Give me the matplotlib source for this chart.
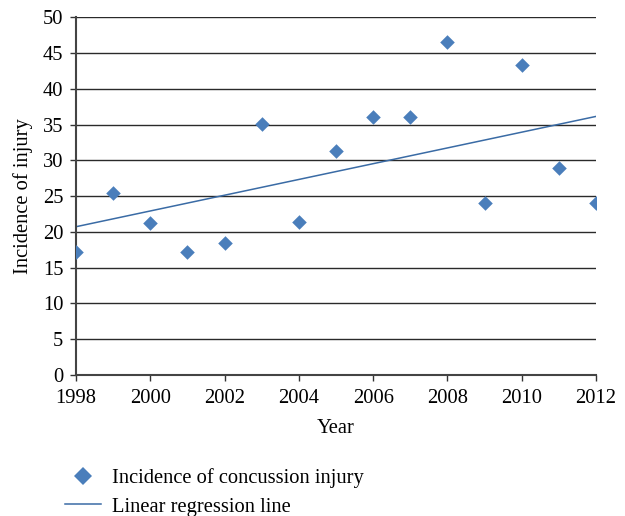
import numpy as np
import matplotlib
matplotlib.use("Agg")
import matplotlib.pyplot as plt
from matplotlib.lines import Line2D

years = [1998, 1999, 2000, 2001, 2002, 2003, 2004, 2005, 2006, 2007, 2008, 2009, 2010, 2011, 2012]
incidence = [17.2, 25.4, 21.2, 17.2, 18.5, 35.1, 21.4, 31.3, 36.1, 36.1, 46.6, 24.1, 43.3, 28.9, 24.1]
yticks = [0, 5, 10, 15, 20, 25, 30, 35, 40, 45, 50]
xticks = [1998, 2000, 2002, 2004, 2006, 2008, 2010, 2012]

plt.rcParams['font.family'] = ['Liberation Serif', 'DejaVu Serif']
color = '#4A7EBB'
fs = 14.8

fig = plt.figure(figsize=(6.25, 5.16), dpi=100)
ax = fig.add_axes([0.1216, 0.2733, 0.832, 0.6932])

ax.scatter(years, incidence, marker='D', s=55, color=color, zorder=3, linewidths=0)
coef = np.polyfit(years, incidence, 1)
xl = np.array([years[0], years[-1]])
ax.plot(xl, np.polyval(coef, xl), color='#3A6BA5', lw=1.1, zorder=2)

ax.set_xlim(1998, 2012)
ax.set_ylim(0, 50)
ax.set_xticks(xticks)
ax.set_yticks(yticks)
ax.yaxis.grid(True, color='#2a2a2a', lw=1.0)
ax.set_axisbelow(True)
for s in ['top', 'right']:
    ax.spines[s].set_visible(False)
for s in ['left', 'bottom']:
    ax.spines[s].set_color('#444444')
    ax.spines[s].set_linewidth(1.5)
ax.tick_params(axis='both', direction='out', length=4, width=1, color='#333333',
               labelsize=fs)
ax.tick_params(axis='y', pad=5)
ax.tick_params(axis='x', pad=6)
ax.set_xlabel('Year', fontsize=fs, labelpad=8)
ax.set_ylabel('Incidence of injury', fontsize=fs, labelpad=7)

handles = [Line2D([], [], marker='D', ls='none', color=color, markersize=9, markeredgewidth=0),
           Line2D([], [], color='#3A6BA5', lw=1.1)]
fig.legend(handles, ['Incidence of concussion injury', 'Linear regression line'],
           loc='upper left', bbox_to_anchor=(0.104, 0.093), frameon=False,
           fontsize=fs, handlelength=1.75, handletextpad=0.55, labelspacing=0.45,
           borderaxespad=0, borderpad=0)

fig.savefig('out.png', dpi=100)
